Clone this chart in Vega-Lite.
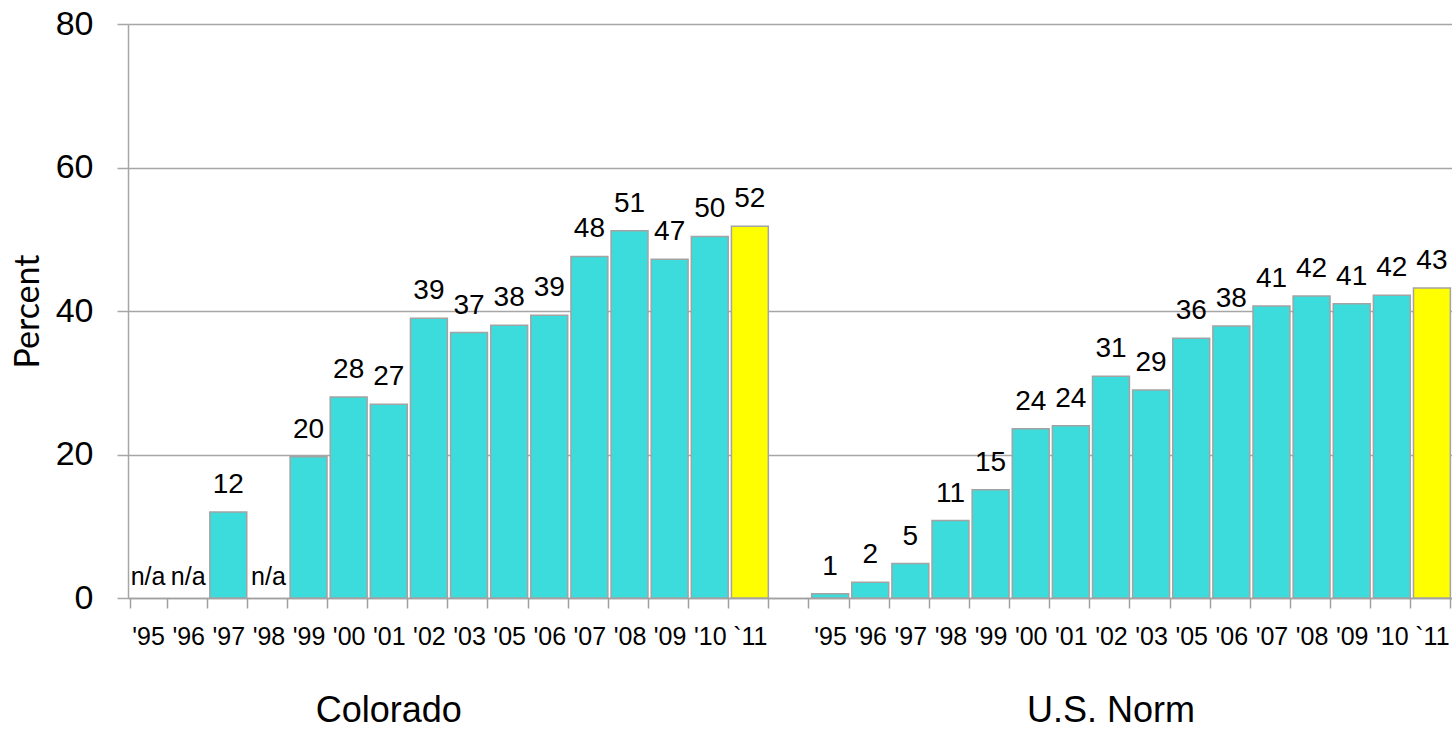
{
  "$schema": "https://vega.github.io/schema/vega-lite/v6.json",
  "width": 1324,
  "height": 574,
  "autosize": {"type": "none"},
  "padding": {"left": 128, "top": 24, "right": 0, "bottom": 134},
  "background": "white",
  "config": {
    "view": {"stroke": null},
    "font": "Liberation Sans"
  },
  "datasets": {
    "bars": [
      {"group": "Colorado", "year": "'95", "key": "C'95", "value": null},
      {"group": "Colorado", "year": "'96", "key": "C'96", "value": null},
      {"group": "Colorado", "year": "'97", "key": "C'97", "value": 12},
      {"group": "Colorado", "year": "'98", "key": "C'98", "value": null},
      {"group": "Colorado", "year": "'99", "key": "C'99", "value": 19.7},
      {"group": "Colorado", "year": "'00", "key": "C'00", "value": 28},
      {"group": "Colorado", "year": "'01", "key": "C'01", "value": 27},
      {"group": "Colorado", "year": "'02", "key": "C'02", "value": 39},
      {"group": "Colorado", "year": "'03", "key": "C'03", "value": 37},
      {"group": "Colorado", "year": "'05", "key": "C'05", "value": 38},
      {"group": "Colorado", "year": "'06", "key": "C'06", "value": 39.4},
      {"group": "Colorado", "year": "'07", "key": "C'07", "value": 47.6},
      {"group": "Colorado", "year": "'08", "key": "C'08", "value": 51.2},
      {"group": "Colorado", "year": "'09", "key": "C'09", "value": 47.2},
      {"group": "Colorado", "year": "'10", "key": "C'10", "value": 50.4},
      {"group": "Colorado", "year": "`11", "key": "C`11", "value": 51.8},
      {"group": "U.S. Norm", "year": "'95", "key": "U'95", "value": 0.6},
      {"group": "U.S. Norm", "year": "'96", "key": "U'96", "value": 2.2},
      {"group": "U.S. Norm", "year": "'97", "key": "U'97", "value": 4.8},
      {"group": "U.S. Norm", "year": "'98", "key": "U'98", "value": 10.8},
      {"group": "U.S. Norm", "year": "'99", "key": "U'99", "value": 15.1},
      {"group": "U.S. Norm", "year": "'00", "key": "U'00", "value": 23.6},
      {"group": "U.S. Norm", "year": "'01", "key": "U'01", "value": 24},
      {"group": "U.S. Norm", "year": "'02", "key": "U'02", "value": 30.9},
      {"group": "U.S. Norm", "year": "'03", "key": "U'03", "value": 29},
      {"group": "U.S. Norm", "year": "'05", "key": "U'05", "value": 36.2},
      {"group": "U.S. Norm", "year": "'06", "key": "U'06", "value": 37.9},
      {"group": "U.S. Norm", "year": "'07", "key": "U'07", "value": 40.7},
      {"group": "U.S. Norm", "year": "'08", "key": "U'08", "value": 42.1},
      {"group": "U.S. Norm", "year": "'09", "key": "U'09", "value": 41},
      {"group": "U.S. Norm", "year": "'10", "key": "U'10", "value": 42.2},
      {"group": "U.S. Norm", "year": "`11", "key": "U`11", "value": 43.2}
    ],
    "groups": [
      {"group": "Colorado", "key": "C'01"},
      {"group": "U.S. Norm", "key": "U'02"}
    ]
  },
  "encoding": {
    "x": {
      "field": "key",
      "type": "nominal",
      "scale": {
        "domain": ["C'95","C'96","C'97","C'98","C'99","C'00","C'01","C'02","C'03","C'05","C'06","C'07","C'08","C'09","C'10","C`11","G","U'95","U'96","U'97","U'98","U'99","U'00","U'01","U'02","U'03","U'05","U'06","U'07","U'08","U'09","U'10","U`11"],
        "paddingInner": 0.08,
        "paddingOuter": 0.04
      },
      "axis": {
        "title": null,
        "labelExpr": "slice(datum.label, 1)",
        "labelAngle": 0,
        "tickBand": "extent",
        "grid": false,
        "domainColor": "#a0a0a0",
        "domainWidth": 1.5,
        "tickColor": "#a0a0a0",
        "tickWidth": 1.5,
        "tickSize": 10,
        "labelFont": "Liberation Sans",
        "labelFontSize": 25,
        "labelColor": "black",
        "labelPadding": 16
      }
    }
  },
  "layer": [
    {
      "data": {"name": "bars"},
      "transform": [{"filter": "isValid(datum.value)"}],
      "mark": {"type": "bar", "stroke": "#a3a3a3", "strokeWidth": 1.5},
      "encoding": {
        "y": {
          "field": "value",
          "type": "quantitative",
          "scale": {"domain": [0, 80]},
          "axis": {
            "title": "Percent",
            "titleFont": "Lato",
            "titleFontWeight": "normal",
            "titleFontSize": 34,
            "titleColor": "black",
            "titlePadding": 10,
            "values": [0, 20, 40, 60, 80],
            "grid": true,
            "gridColor": "#a6a6a6",
            "gridWidth": 1.5,
            "domainColor": "#a6a6a6",
            "domainWidth": 1.5,
            "tickColor": "#a6a6a6",
            "tickWidth": 1.5,
            "tickSize": 11,
            "labelFontSize": 34,
            "labelColor": "black",
            "labelPadding": 24
          }
        },
        "color": {
          "condition": {"test": "datum.year === '`11'", "value": "#FFFF00"},
          "value": "#3CDCDC"
        }
      }
    },
    {
      "data": {"name": "bars"},
      "transform": [{"filter": "isValid(datum.value)"}],
      "mark": {"type": "text", "fontSize": 28, "baseline": "alphabetic", "dy": -19, "color": "black"},
      "encoding": {
        "y": {"field": "value", "type": "quantitative"},
        "text": {"field": "value", "type": "quantitative", "format": ".0f"}
      }
    },
    {
      "data": {"name": "bars"},
      "transform": [{"filter": "!isValid(datum.value)"}],
      "mark": {"type": "text", "fontSize": 25, "baseline": "alphabetic", "dy": -13, "color": "black", "text": "n/a"},
      "encoding": {
        "y": {"datum": 0, "type": "quantitative"}
      }
    },
    {
      "data": {"name": "groups"},
      "mark": {"type": "text", "fontSize": 36, "baseline": "alphabetic", "dy": 124, "dx": 0, "color": "black"},
      "encoding": {
        "y": {"datum": 0, "type": "quantitative"},
        "text": {"field": "group", "type": "nominal"}
      }
    }
  ]
}
